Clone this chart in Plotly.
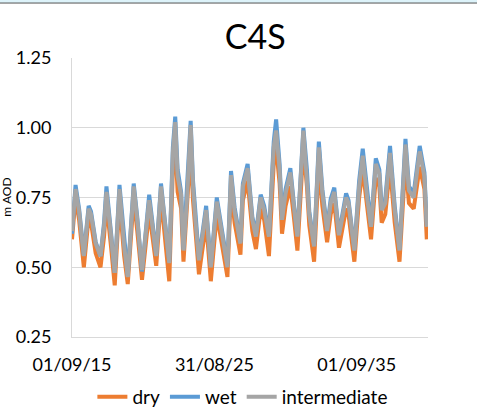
import plotly.graph_objects as go

# dates (month precision)
dates = ['2015-09', '2015-12', '2016-03', '2016-07', '2016-11', '2017-01', '2017-05', '2017-09',
         '2017-12', '2018-02', '2018-06', '2018-09', '2019-01', '2019-05', '2019-08', '2020-01',
         '2020-04', '2020-08', '2021-02', '2021-08', '2021-12', '2022-03', '2022-07', '2022-10',
         '2022-12', '2023-02', '2023-05', '2023-07', '2023-10', '2024-01', '2024-03', '2024-05',
         '2024-08', '2025-02', '2025-06', '2025-11', '2026-04', '2026-08', '2026-11', '2027-02',
         '2027-07', '2027-09', '2028-01', '2028-05', '2028-08', '2028-12', '2029-03', '2029-07',
         '2029-11', '2030-01', '2030-04', '2030-06', '2030-09', '2031-01', '2031-04', '2031-07',
         '2031-12', '2032-03', '2032-05', '2032-09', '2033-01', '2033-04', '2033-08', '2033-11',
         '2034-02', '2034-06', '2034-12', '2035-02', '2035-07', '2035-11', '2036-02', '2036-06',
         '2036-09', '2037-01', '2037-04', '2037-06', '2037-09', '2038-01', '2038-05', '2038-09',
         '2039-02', '2039-05', '2039-09', '2040-02', '2040-06', '2040-08']

dry = [0.60, 0.75, 0.67, 0.50, 0.68, 0.66, 0.55, 0.50, 0.61, 0.73, 0.57, 0.435, 0.74, 0.54,
       0.44, 0.75, 0.63, 0.455, 0.70, 0.505, 0.75, 0.63, 0.45, 0.85, 0.94, 0.77, 0.71, 0.52,
       0.70, 0.93, 0.74, 0.63, 0.475, 0.66, 0.45, 0.69, 0.57, 0.465, 0.78, 0.66, 0.545, 0.74,
       0.81, 0.63, 0.565, 0.71, 0.67, 0.54, 0.87, 0.93, 0.80, 0.62, 0.72, 0.79, 0.68, 0.56,
       0.93, 0.79, 0.65, 0.52, 0.87, 0.72, 0.59, 0.69, 0.73, 0.57, 0.71, 0.69, 0.52, 0.75,
       0.85, 0.70, 0.60, 0.82, 0.79, 0.66, 0.69, 0.86, 0.66, 0.52, 0.88, 0.73, 0.71, 0.86,
       0.78, 0.60]

wet = [0.62, 0.795, 0.71, 0.545, 0.72, 0.70, 0.59, 0.54, 0.66, 0.79, 0.62, 0.48, 0.795, 0.59,
       0.47, 0.80, 0.68, 0.485, 0.76, 0.545, 0.80, 0.68, 0.52, 0.93, 1.04, 0.85, 0.77, 0.565,
       0.77, 1.025, 0.81, 0.68, 0.53, 0.72, 0.505, 0.75, 0.62, 0.51, 0.845, 0.715, 0.59, 0.80,
       0.87, 0.68, 0.62, 0.76, 0.72, 0.615, 0.95, 1.03, 0.87, 0.68, 0.78, 0.855, 0.73, 0.615,
       1.00, 0.85, 0.70, 0.58, 0.95, 0.78, 0.64, 0.745, 0.785, 0.62, 0.765, 0.74, 0.565, 0.81,
       0.925, 0.755, 0.65, 0.89, 0.85, 0.715, 0.745, 0.935, 0.72, 0.565, 0.96, 0.79, 0.765, 0.935,
       0.84, 0.65]

intermediate = [0.63, 0.78, 0.70, 0.54, 0.71, 0.69, 0.585, 0.54, 0.645, 0.77, 0.61, 0.48, 0.78,
                0.575, 0.465, 0.79, 0.67, 0.49, 0.74, 0.54, 0.79, 0.67, 0.515, 0.91, 1.02, 0.825,
                0.76, 0.56, 0.75, 1.01, 0.79, 0.67, 0.525, 0.705, 0.50, 0.735, 0.61, 0.50, 0.83,
                0.70, 0.585, 0.79, 0.855, 0.67, 0.61, 0.75, 0.705, 0.61, 0.93, 0.99, 0.85, 0.67,
                0.765, 0.84, 0.72, 0.61, 0.99, 0.835, 0.69, 0.575, 0.93, 0.765, 0.63, 0.73, 0.77,
                0.615, 0.75, 0.73, 0.56, 0.79, 0.90, 0.74, 0.645, 0.87, 0.835, 0.705, 0.73, 0.91,
                0.705, 0.56, 0.94, 0.775, 0.75, 0.915, 0.825, 0.645]

tick_dates = ['2015-09-01', '2025-08-31', '2035-09-01']
tick_text = ['01/09/15', '31/08/25', '01/09/35']

font = 'Lato, Open Sans, sans-serif'

fig = go.Figure()
fig.add_trace(go.Scatter(x=dates, y=dry, name='dry', mode='lines',
                         line=dict(color='#ED7D31', width=4)))
fig.add_trace(go.Scatter(x=dates, y=wet, name='wet', mode='lines',
                         line=dict(color='#5B9BD5', width=4)))
fig.add_trace(go.Scatter(x=dates, y=intermediate, name='intermediate', mode='lines',
                         line=dict(color='#A5A5A5', width=4)))

fig.update_xaxes(type='date', range=['2015-09-01', '2040-09-01'],
                 tickvals=tick_dates, ticktext=tick_text, automargin=False,
                 showgrid=False, showline=True, linecolor='#D9D9D9', linewidth=1,
                 ticks='', ticklabelstandoff=11,
                 tickfont=dict(size=18, color='#000000'))
fig.update_yaxes(range=[0.25, 1.25], dtick=0.25, tickformat='.2f', automargin=False,
                 showgrid=True, gridcolor='#D9D9D9', gridwidth=1,
                 showline=True, linecolor='#D9D9D9', linewidth=1,
                 zeroline=False, ticks='', ticklabelstandoff=16,
                 tickfont=dict(size=18, color='#000000'))

fig.update_layout(
    width=477, height=416,
    margin=dict(l=72, r=49, t=58, b=79),
    paper_bgcolor='white', plot_bgcolor='white',
    font=dict(family=font, color='#000000'),
    title=dict(text='C4S', x=0.535, xanchor='center', y=0.91, yanchor='middle',
               automargin=False, font=dict(size=34, color='#000000')),
    showlegend=True,
    legend=dict(orientation='h', x=0.48, xanchor='center',
                yref='container', y=0.046, yanchor='middle',
                font=dict(size=19, color='#000000'), itemwidth=30, tracegroupgap=0),
    annotations=[dict(text='m AOD', xref='paper', yref='paper', x=-0.185, y=0.5,
                      textangle=-90, showarrow=False, xanchor='center', yanchor='middle',
                      font=dict(size=12, color='#000000'))],
    shapes=[dict(type='rect', xref='paper', yref='paper', x0=-0.21, x1=1.15,
                 y0=1.197, y1=1.21, fillcolor='#DDF3FA', line=dict(width=0)),
            dict(type='line', xref='paper', yref='paper', x0=-0.21, x1=1.15,
                 y0=1.197, y1=1.197, line=dict(color='#555555', width=1))],
)

# drop the page's default body margin so the figure sits at the window corner
fig.write_html('out.html', config={'displayModeBar': False},
               post_script="document.body.style.margin='0';")
